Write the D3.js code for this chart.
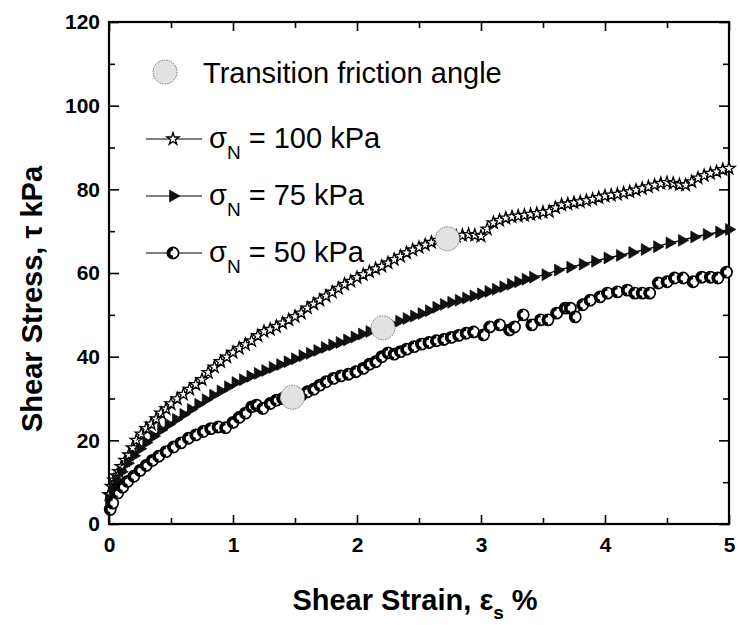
<!DOCTYPE html>
<html>
<head>
<meta charset="utf-8">
<script src="https://cdn.jsdelivr.net/npm/d3@7"></script>
<style>
  body { margin: 0; background: #fff; }
  text { font-family: "Liberation Sans", Arial, sans-serif; }
</style>
</head>
<body>
<div class="canvas"></div>
<script>
// data
const strain100 = [0, 0.02, 0.04, 0.06, 0.08, 0.1, 0.13, 0.16, 0.19, 0.22, 0.26, 0.3, 0.34, 0.38, 0.42, 0.46, 0.5, 0.55, 0.6, 0.65, 0.7, 0.75, 0.8, 0.85, 0.9, 0.95, 1.0, 1.05, 1.1, 1.15, 1.2, 1.25, 1.3, 1.35, 1.4, 1.45, 1.5, 1.55, 1.6, 1.65, 1.7, 1.75, 1.8, 1.85, 1.9, 1.95, 2.0, 2.05, 2.1, 2.15, 2.2, 2.25, 2.3, 2.35, 2.4, 2.45, 2.5, 2.55, 2.6, 2.65, 2.7, 2.75, 2.8, 2.85, 2.9, 2.95, 3.0, 3.05, 3.1, 3.15, 3.2, 3.25, 3.3, 3.35, 3.4, 3.45, 3.5, 3.55, 3.6, 3.65, 3.7, 3.75, 3.8, 3.85, 3.9, 3.95, 4.0, 4.05, 4.1, 4.15, 4.2, 4.25, 4.3, 4.35, 4.4, 4.45, 4.5, 4.55, 4.6, 4.65, 4.7, 4.75, 4.8, 4.85, 4.9, 4.95, 5.0];
const stress100 = [7, 9, 10.5, 11.5, 12.5, 13.7, 15.2, 16.5, 18.2, 20, 21.5, 22.8, 23.9, 25.1, 26.5, 27.5, 28.7, 29.9, 31, 32.2, 33.3, 34.5, 36.2, 37.5, 38.8, 39.9, 41, 42, 42.9, 43.8, 45, 46, 46.5, 47.2, 48, 48.8, 49.6, 50.4, 51.6, 52.6, 53.5, 54.5, 55.4, 56.3, 57.3, 58, 58.9, 59.6, 60.3, 61, 61.6, 62.4, 63.2, 64, 64.8, 65.5, 66.1, 66.7, 67.3, 67.8, 68.2, 68.5, 68.8, 69, 69.2, 69, 68.8, 70.5, 72, 72.6, 73.1, 73.4, 73.6, 73.8, 74, 74.2, 74.5, 74.7, 75.6, 76.3, 76.5, 76.8, 77, 77.3, 77.6, 78, 78.4, 78.6, 78.8, 79.1, 79.4, 79.8, 80.2, 80.6, 81, 81.4, 81.6, 81.4, 81.1, 81, 81.8, 82.7, 83.3, 83.8, 84.2, 84.7, 85];

const strain75 = [0, 0.03, 0.06, 0.1, 0.15, 0.2, 0.25, 0.3, 0.36, 0.42, 0.48, 0.54, 0.6, 0.66, 0.72, 0.78, 0.84, 0.9, 0.96, 1.02, 1.08, 1.14, 1.2, 1.26, 1.32, 1.38, 1.44, 1.5, 1.56, 1.62, 1.68, 1.74, 1.8, 1.86, 1.92, 1.98, 2.04, 2.1, 2.16, 2.22, 2.28, 2.34, 2.4, 2.46, 2.52, 2.58, 2.64, 2.7, 2.76, 2.82, 2.88, 2.94, 3.0, 3.06, 3.12, 3.18, 3.24, 3.3, 3.36, 3.42, 3.52, 3.62, 3.72, 3.82, 3.92, 4.02, 4.12, 4.22, 4.32, 4.42, 4.52, 4.62, 4.72, 4.82, 4.92, 5.0];
const stress75 = [6, 8.5, 10.5, 12.5, 14.5, 16.3, 18, 19.5, 21, 22.5, 23.8, 25, 26.2, 27.4, 28.6, 29.7, 30.8, 31.8, 32.8, 33.8, 34.5, 35.3, 36, 36.7, 37.4, 38.1, 38.8, 39.5, 40.2, 40.8, 41.5, 42.2, 42.8, 43.4, 44, 44.7, 45.4, 46, 46.6, 47.2, 47.8, 48.5, 49.1, 49.7, 50.3, 51, 51.8, 52.5, 53, 53.5, 54, 54.5, 55, 55.6, 56.1, 56.7, 57.3, 57.9, 58.5, 59, 59.6, 60.7, 61.4, 62.1, 62.8, 63.6, 64.2, 64.9, 65.6, 66.3, 67.2, 67.8, 68.6, 69.2, 69.8, 70.4];

const strain50 = [0.01, 0.03, 0.07, 0.11, 0.15, 0.2, 0.25, 0.3, 0.35, 0.4, 0.46, 0.52, 0.58, 0.64, 0.7, 0.76, 0.82, 0.88, 0.94, 1.0, 1.05, 1.1, 1.15, 1.19, 1.24, 1.3, 1.35, 1.4, 1.47, 1.55, 1.6, 1.65, 1.7, 1.75, 1.81, 1.87, 1.93, 1.99, 2.05, 2.1, 2.15, 2.2, 2.25, 2.3, 2.35, 2.4, 2.46, 2.52, 2.58, 2.64, 2.7, 2.76, 2.82, 2.88, 2.94, 3.02, 3.07, 3.15, 3.23, 3.27, 3.34, 3.41, 3.48, 3.54, 3.61, 3.68, 3.72, 3.76, 3.82, 3.88, 3.96, 4.02, 4.1, 4.18, 4.24, 4.3, 4.36, 4.43, 4.5, 4.56, 4.63, 4.71, 4.78, 4.85, 4.91, 4.98];
const stress50 = [3.5, 5, 7.4, 8.8, 10.2, 11.4, 12.8, 14, 15.2, 16.2, 17.3, 18.4, 19.4, 20.5, 21.3, 22.1, 22.8, 23.2, 23, 24.3, 25.5, 26.5, 28, 28.4, 27.6, 28.8, 29.6, 30, 30.3, 30.8, 31.6, 32.2, 33.2, 34, 34.8, 35.4, 35.8, 36.4, 37.2, 38.2, 38.8, 40, 40.9, 40.6, 41.2, 41.8, 42.4, 43, 43.4, 43.8, 44.1, 44.6, 45.1, 45.6, 45.9, 45.2, 47.1, 47.6, 46.4, 47.1, 50, 47.6, 48.8, 48.8, 50.4, 51.6, 51.6, 49.5, 52.4, 53.5, 54.3, 55.2, 55.5, 55.9, 55.2, 55.2, 55.2, 57.6, 57.9, 58.8, 58.8, 57.9, 59, 59, 58.8, 60.2];

const transitionStrain = [1.48, 2.21, 2.73];
const transitionStress = [30.3, 46.9, 68.2];

const xTicks = [0, 1, 2, 3, 4, 5];
const xMinor = [0.5, 1.5, 2.5, 3.5, 4.5];
const yTicks = [0, 20, 40, 60, 80, 100, 120];
const yMinor = [10, 30, 50, 70, 90, 110];

const zip = (xs, ys) => xs.map((v, i) => ({ x: v, y: ys[i] }));

const margin = { top: 22, right: 11, bottom: 101, left: 109 };
const width = 740, height = 625;
const graphwidth = width - margin.left - margin.right;
const graphheight = height - margin.top - margin.bottom;

const svg = d3.select('.canvas').append('svg')
  .attr('width', width)
  .attr('height', height);

const graph = svg.append('g')
  .attr('transform', `translate(${margin.left}, ${margin.top})`);

const x = d3.scaleLinear().domain([0, 5]).range([0, graphwidth]);
const y = d3.scaleLinear().domain([0, 120]).range([graphheight, 0]);

// axes (ticks point inward)
function axisGroup(axis, tx, ty) {
  const g = graph.append('g').attr('transform', `translate(${tx},${ty})`).call(axis);
  g.select('.domain').remove();
  g.selectAll('line').attr('stroke', '#000').attr('stroke-width', 1.6);
  return g;
}
const bottom = axisGroup(d3.axisBottom(x).tickValues(xTicks).tickSize(-9).tickPadding(13).tickFormat(d3.format('d')), 0, graphheight);
axisGroup(d3.axisBottom(x).tickValues(xMinor).tickSize(-6).tickFormat(''), 0, graphheight);
axisGroup(d3.axisTop(x).tickValues(xTicks).tickSize(-9).tickFormat(''), 0, 0);
axisGroup(d3.axisTop(x).tickValues(xMinor).tickSize(-6).tickFormat(''), 0, 0);
const left = axisGroup(d3.axisLeft(y).tickValues(yTicks).tickSize(-10).tickPadding(9), 0, 0);
axisGroup(d3.axisLeft(y).tickValues(yMinor).tickSize(-6).tickFormat(''), 0, 0);
axisGroup(d3.axisRight(y).tickValues(yTicks).tickSize(-10).tickFormat(''), graphwidth, 0);
axisGroup(d3.axisRight(y).tickValues(yMinor).tickSize(-6).tickFormat(''), graphwidth, 0);

[bottom, left].forEach(g => g.selectAll('text')
  .attr('fill', '#000')
  .style('font-size', '21px')
  .style('font-weight', 'bold')
  .style('font-family', '"Liberation Sans", Arial, sans-serif'));

graph.append('rect')
  .attr('width', graphwidth).attr('height', graphheight)
  .attr('fill', 'none').attr('stroke', '#000').attr('stroke-width', 2.2);

// marker drawing
const starPath = d3.symbol(d3.symbolStar, 46)();
const triPath = d3.symbol(d3.symbolTriangle, 62)();
const halfArc = d3.arc().innerRadius(2.6).outerRadius(5.6).startAngle(Math.PI).endAngle(2 * Math.PI)();

function drawStar(sel) {
  sel.append('path').attr('d', starPath)
    .attr('fill', '#fff').attr('stroke', '#000').attr('stroke-width', 1.3);
}
function drawTri(sel) {
  sel.append('path').attr('d', triPath).attr('transform', 'rotate(90)')
    .attr('fill', '#111').attr('stroke', '#000').attr('stroke-width', 0.6);
}
function drawCirc(sel) {
  sel.append('circle').attr('r', 5.6)
    .attr('fill', '#fff').attr('stroke', '#000').attr('stroke-width', 1.7);
  sel.append('path').attr('d', halfArc).attr('fill', '#000');
}

const line = d3.line().x(d => x(d.x)).y(d => y(d.y));

const series = [
  { data: zip(strain100, stress100), draw: drawStar, label: '100' },
  { data: zip(strain75, stress75), draw: drawTri, label: '75' },
  { data: zip(strain50, stress50), draw: drawCirc, label: '50' }
];

series.forEach(s => {
  graph.append('path').datum(s.data)
    .attr('fill', 'none').attr('stroke', '#000').attr('stroke-width', 1.4)
    .attr('d', line);
  graph.selectAll(null).data(s.data).enter().append('g')
    .attr('transform', d => `translate(${x(d.x)},${y(d.y)})`)
    .each(function() { s.draw(d3.select(this)); });
});

// transition friction angle points
const transition = zip(transitionStrain, transitionStress);
graph.selectAll('.trans').data(transition).enter().append('circle')
  .attr('class', 'trans')
  .attr('cx', d => x(d.x)).attr('cy', d => y(d.y)).attr('r', 12)
  .attr('fill', '#e2e2e2').attr('stroke', '#777').attr('stroke-width', 1)
  .attr('stroke-dasharray', '1.5,1');

// legend
const legend = svg.append('g');
legend.append('circle').attr('cx', 165).attr('cy', 72).attr('r', 12)
  .attr('fill', '#e2e2e2').attr('stroke', '#777').attr('stroke-width', 1)
  .attr('stroke-dasharray', '1.5,1');
legend.append('text').attr('x', 203).attr('y', 83)
  .style('font-size', '29px').text('Transition friction angle');

const rowY = [148, 205, 262];
series.forEach((s, i) => {
  const cy = rowY[i] - 9;
  legend.append('line').attr('x1', 146).attr('x2', 202).attr('y1', cy).attr('y2', cy)
    .attr('stroke', '#000').attr('stroke-width', 1.2);
  s.draw(legend.append('g').attr('transform', `translate(173,${cy})`));
  const t = legend.append('text').attr('x', 209).attr('y', rowY[i]).style('font-size', '29px');
  t.append('tspan').text('σ');
  t.append('tspan').attr('dy', 11).style('font-size', '19px').text('N');
  t.append('tspan').attr('dy', -11).text(` = ${s.label} kPa`);
});

// axis titles
const xt = svg.append('text')
  .attr('x', 415).attr('y', 610)
  .attr('text-anchor', 'middle')
  .style('font-size', '29px').style('font-weight', 'bold');
xt.append('tspan').text('Shear Strain, ε');
xt.append('tspan').attr('dy', 9).style('font-size', '19px').text('s');
xt.append('tspan').attr('dy', -9).text(' %');

svg.append('text')
  .attr('transform', 'translate(42, 299) rotate(-90)')
  .attr('text-anchor', 'middle')
  .style('font-size', '29px').style('font-weight', 'bold')
  .text('Shear Stress, τ kPa');
</script>
</body>
</html>
